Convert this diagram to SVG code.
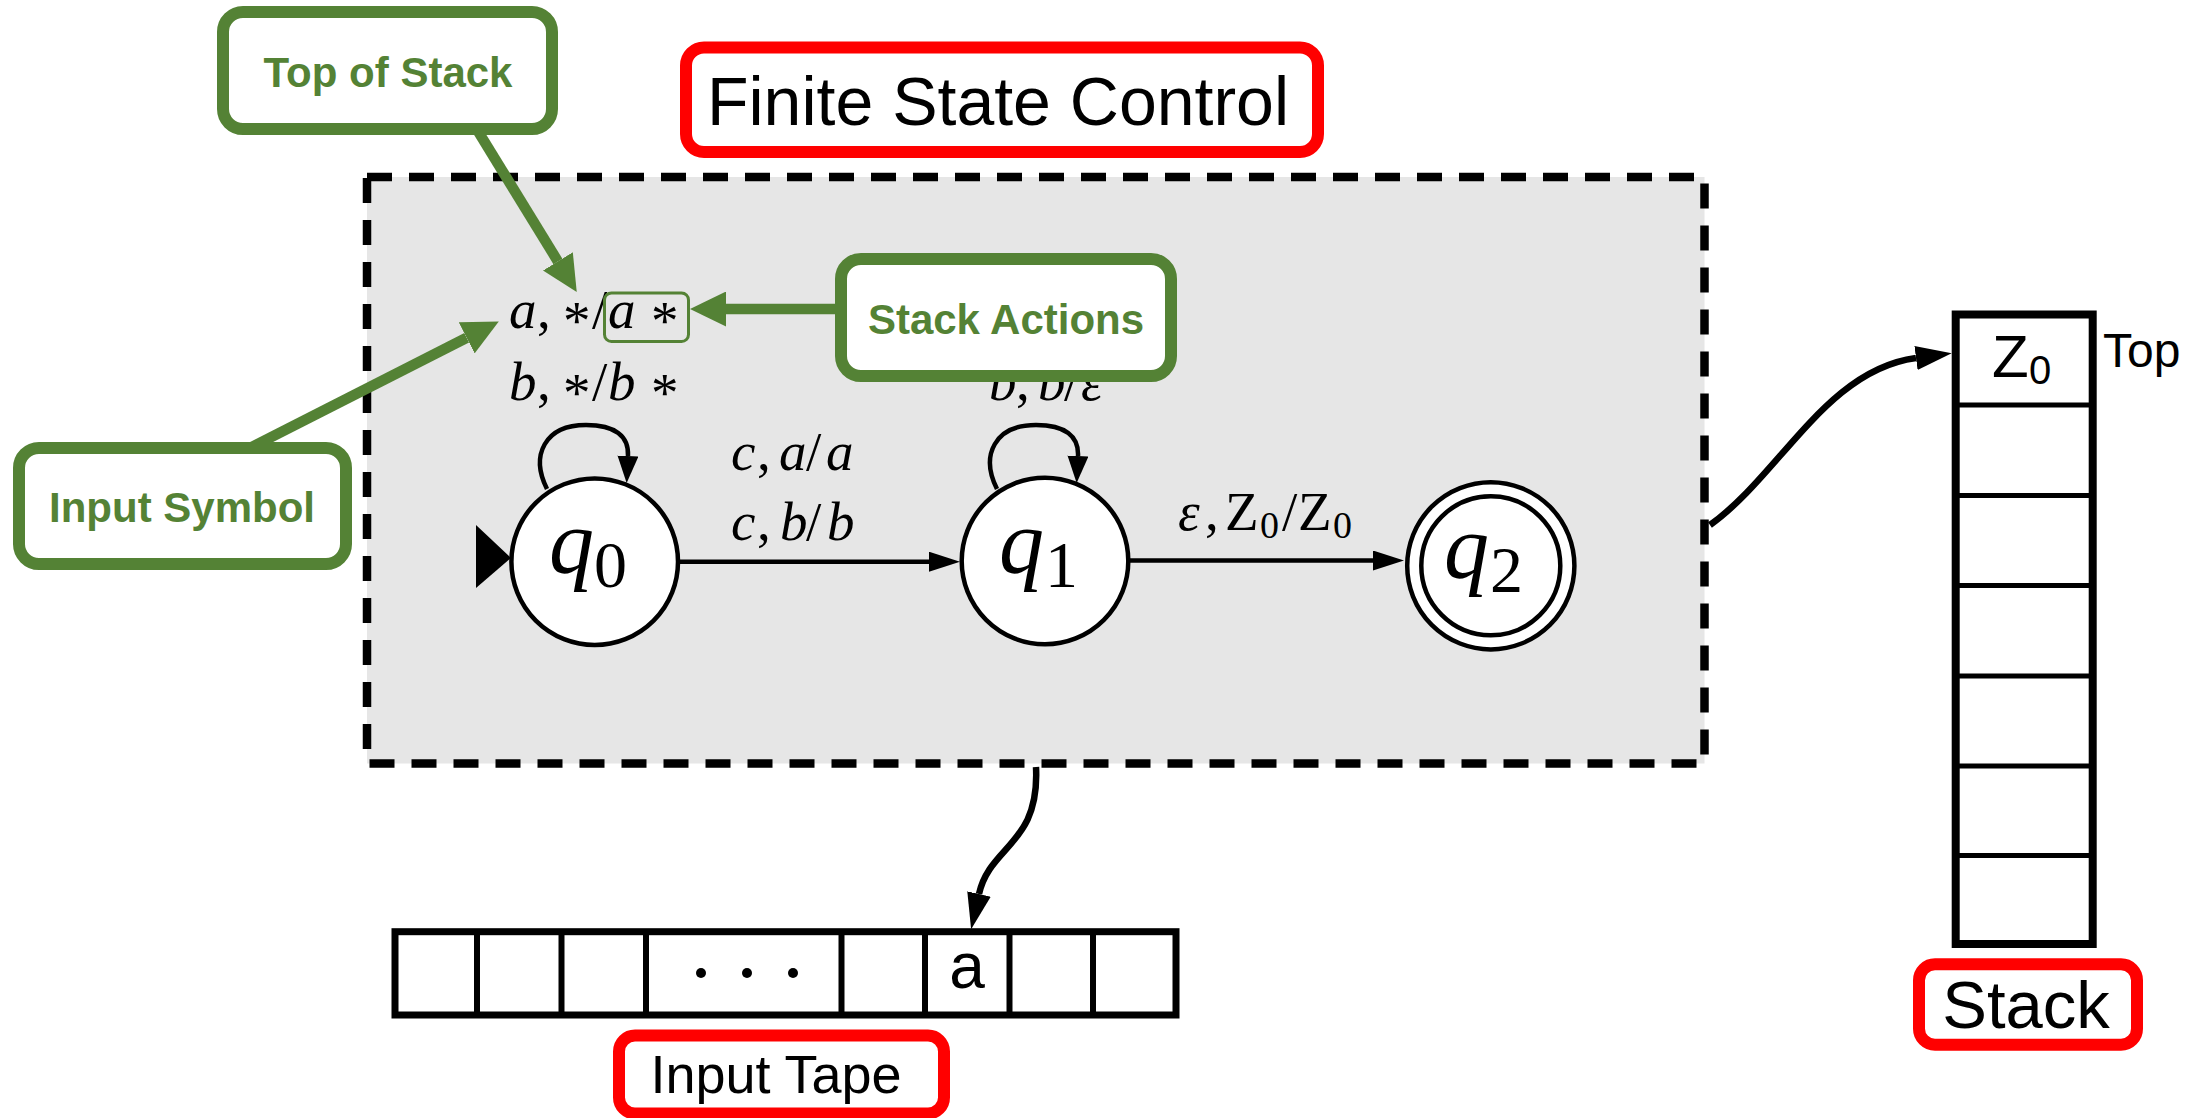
<svg xmlns="http://www.w3.org/2000/svg" width="2203" height="1118" viewBox="0 0 2203 1118">
  <style>
    .sans { font-family: "Liberation Sans", Arial, sans-serif; fill: #000; }
    .callout { fill: #fff; stroke: #548235; stroke-width: 12; }
    .callout-txt { font-family: "Liberation Sans", Arial, sans-serif; font-weight: bold; font-size: 42px; fill: #548235; text-anchor: middle; }
    .title { fill: #fff; stroke: #ff0000; stroke-width: 12; }
    .pointer { fill: none; stroke: #548235; stroke-width: 10.5; }
    .math { font-family: "Liberation Serif", "Times New Roman", serif; font-size: 55px; fill: #000; }
    .it { font-style: italic; }
    .state { fill: #fff; stroke: #000; stroke-width: 4.5; }
    .edge { fill: none; stroke: #000; stroke-width: 4.5; }
    .link { fill: none; stroke: #000; stroke-width: 6.5; }
    .cell { fill: none; stroke: #000; }
  </style>
  <defs>
    <marker id="head" markerUnits="userSpaceOnUse" markerWidth="31" markerHeight="20" refX="0" refY="10" orient="auto">
      <path d="M0,0 L31,10 L0,20 z" fill="#000"/>
    </marker>
    <marker id="loophead" markerUnits="userSpaceOnUse" markerWidth="27" markerHeight="21" refX="0" refY="10.5" orient="auto">
      <path d="M0,0 L27,10.5 L0,21 z" fill="#000"/>
    </marker>
    <marker id="linkhead" markerUnits="userSpaceOnUse" markerWidth="36" markerHeight="24" refX="0" refY="12" orient="auto">
      <path d="M0,0 L36,12 L0,24 z" fill="#000"/>
    </marker>
    <marker id="greenhead" markerUnits="userSpaceOnUse" markerWidth="36" markerHeight="35" refX="0" refY="17.5" orient="auto">
      <path d="M0,0 L36,17.5 L0,35 z" fill="#548235"/>
    </marker>
  </defs>

  <rect width="2203" height="1118" fill="#fff"/>

  <!-- finite state control region -->
  <g id="control">
    <rect x="367" y="177" width="1337.5" height="586.5" fill="#e6e6e6" stroke="#000" stroke-width="8.5" stroke-dasharray="25 17"/>
  </g>

  <g id="control-title">
    <rect class="title" x="686" y="47.5" width="632" height="104.5" rx="18"/>
    <text class="sans" x="998" y="125" font-size="68" text-anchor="middle">Finite State Control</text>
  </g>

  <!-- automaton transitions -->
  <g id="transitions">
    <polygon points="476,525 476,588 511,558" fill="#000"/>
    <line class="edge" x1="680" y1="561.7" x2="929" y2="561.7" marker-end="url(#head)"/>
    <line class="edge" x1="1130" y1="560.5" x2="1373" y2="560.5" marker-end="url(#head)"/>
    <path class="edge" d="M547 489 C530 455 545 425 586 425 C615 425 629 436 628 456" marker-end="url(#loophead)"/>
    <path class="edge" d="M997 489 C980 455 995 425 1036 425 C1065 425 1079 436 1078 456" marker-end="url(#loophead)"/>
  </g>

  <!-- transition labels -->
  <g id="labels">
    <text class="math"><tspan class="it" x="509" y="328">a</tspan><tspan x="537" y="328">,</tspan><tspan x="563" y="339">*</tspan><tspan x="592" y="328">/</tspan><tspan class="it" x="608" y="328">a</tspan><tspan x="651" y="339">*</tspan></text>
    <text class="math"><tspan class="it" x="509" y="400">b</tspan><tspan x="537" y="400">,</tspan><tspan x="563" y="411">*</tspan><tspan x="592" y="400">/</tspan><tspan class="it" x="608" y="400">b</tspan><tspan x="651" y="411">*</tspan></text>
    <text class="math" font-size="52"><tspan class="it" x="731" y="470">c</tspan><tspan x="757" y="470">,</tspan><tspan class="it" x="779" y="470">a</tspan><tspan x="806" y="470">/</tspan><tspan class="it" x="826" y="470">a</tspan></text>
    <text class="math" font-size="52"><tspan class="it" x="731" y="540">c</tspan><tspan x="757" y="540">,</tspan><tspan class="it" x="780" y="540">b</tspan><tspan x="806" y="540">/</tspan><tspan class="it" x="827" y="540">b</tspan></text>
    <text class="math"><tspan class="it" x="989" y="400">b</tspan><tspan x="1016" y="400">,</tspan><tspan class="it" x="1038" y="400">b</tspan><tspan x="1064" y="400">/</tspan><tspan class="it" x="1081" y="400">ε</tspan></text>
    <text class="math"><tspan class="it" x="1178" y="530">ε</tspan><tspan x="1205" y="530">,</tspan><tspan x="1225" y="530">Z</tspan><tspan x="1260" y="538" font-size="38">0</tspan><tspan x="1282" y="530">/</tspan><tspan x="1298" y="530">Z</tspan><tspan x="1333" y="538" font-size="38">0</tspan></text>
  </g>

  <!-- states -->
  <g id="q0">
    <circle class="state" cx="594.7" cy="561.7" r="83.3"/>
    <text class="math"><tspan class="it" x="549" y="573" font-size="90">q</tspan><tspan x="594" y="587" font-size="66">0</tspan></text>
  </g>
  <g id="q1">
    <circle class="state" cx="1045" cy="561" r="83.3"/>
    <text class="math"><tspan class="it" x="999" y="573" font-size="90">q</tspan><tspan x="1045" y="587" font-size="66">1</tspan></text>
  </g>
  <g id="q2">
    <circle class="state" cx="1490.8" cy="565.8" r="83.6"/>
    <circle class="state" cx="1490.8" cy="565.8" r="69.5" stroke-width="4"/>
    <text class="math"><tspan class="it" x="1444" y="578" font-size="90">q</tspan><tspan x="1490" y="592" font-size="66">2</tspan></text>
  </g>

  <!-- highlight around the pushed symbols -->
  <g id="push-highlight">
    <rect x="604.5" y="293" width="84" height="48.5" rx="7" fill="none" stroke="#548235" stroke-width="3"/>
  </g>

  <!-- links from the control to tape and stack -->
  <g id="links">
    <path class="link" d="M1036 767 C1040 845 990 845 979 894" marker-end="url(#linkhead)"/>
    <path class="link" d="M1710 525 C1780 475 1826 370 1916 358" marker-end="url(#linkhead)"/>
  </g>

  <!-- input tape -->
  <g id="input-tape">
    <rect class="cell" x="395" y="931.7" width="781" height="83.3" stroke-width="7" fill="#fff"/>
    <g class="cell" stroke-width="6">
      <line x1="477" y1="931.7" x2="477" y2="1015"/>
      <line x1="561.5" y1="931.7" x2="561.5" y2="1015"/>
      <line x1="646" y1="931.7" x2="646" y2="1015"/>
      <line x1="841.5" y1="931.7" x2="841.5" y2="1015"/>
      <line x1="925" y1="931.7" x2="925" y2="1015"/>
      <line x1="1009.5" y1="931.7" x2="1009.5" y2="1015"/>
      <line x1="1093" y1="931.7" x2="1093" y2="1015"/>
    </g>
    <circle cx="701" cy="973" r="5" fill="#000"/>
    <circle cx="747" cy="973" r="5" fill="#000"/>
    <circle cx="793" cy="973" r="5" fill="#000"/>
    <text class="sans" x="967" y="988" font-size="64" text-anchor="middle">a</text>
  </g>
  <g id="input-tape-title">
    <rect class="title" x="619" y="1035.5" width="325" height="78" rx="16"/>
    <text class="sans" x="776" y="1093" font-size="54" text-anchor="middle">Input Tape</text>
  </g>

  <!-- stack -->
  <g id="stack">
    <rect class="cell" x="1955.7" y="314.5" width="137" height="629.5" stroke-width="8" fill="#fff"/>
    <g class="cell" stroke-width="5">
      <line x1="1955.7" y1="405" x2="2092.7" y2="405"/>
      <line x1="1955.7" y1="495.5" x2="2092.7" y2="495.5"/>
      <line x1="1955.7" y1="585.5" x2="2092.7" y2="585.5"/>
      <line x1="1955.7" y1="676" x2="2092.7" y2="676"/>
      <line x1="1955.7" y1="766" x2="2092.7" y2="766"/>
      <line x1="1955.7" y1="855.5" x2="2092.7" y2="855.5"/>
    </g>
    <text class="sans" font-size="60"><tspan x="1992" y="377">Z</tspan><tspan x="2029" y="384" font-size="40">0</tspan></text>
    <text class="sans" x="2103" y="367" font-size="48">Top</text>
  </g>
  <g id="stack-title">
    <rect class="title" x="1919" y="964.3" width="218" height="80.5" rx="16"/>
    <text class="sans" x="2026" y="1028" font-size="67" text-anchor="middle">Stack</text>
  </g>

  <!-- green callouts and their pointers -->
  <g id="pointers">
    <line class="pointer" x1="476" y1="128" x2="557.9" y2="261.4" marker-end="url(#greenhead)"/>
    <line class="pointer" x1="250" y1="448" x2="466.7" y2="337.8" marker-end="url(#greenhead)"/>
    <line class="pointer" x1="840" y1="309" x2="726" y2="309" marker-end="url(#greenhead)"/>
  </g>
  <g id="top-of-stack">
    <rect class="callout" x="223" y="12" width="329" height="117" rx="20"/>
    <text class="callout-txt" x="388" y="87">Top of Stack</text>
  </g>
  <g id="stack-actions">
    <rect class="callout" x="841" y="259" width="330" height="117" rx="20"/>
    <text class="callout-txt" x="1006" y="334">Stack Actions</text>
  </g>
  <g id="input-symbol">
    <rect class="callout" x="19" y="448" width="327" height="116" rx="20"/>
    <text class="callout-txt" x="182" y="522">Input Symbol</text>
  </g>
</svg>
